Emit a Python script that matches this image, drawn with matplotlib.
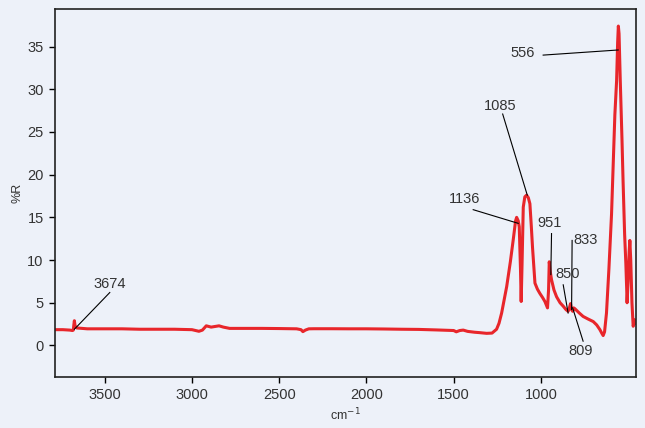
import matplotlib as mpl
mpl.use('Agg')
import matplotlib.pyplot as plt
import numpy as np

# spectrum, read as (wavenumber, %R) pairs, high to low wavenumber
wavenumber = [3786, 3740, 3700, 3685, 3680, 3677, 3674, 3670, 3660, 3600, 3500,
              3400, 3300, 3200, 3100, 3000, 2960, 2940, 2918, 2890, 2860, 2845,
              2820, 2784, 2700, 2600, 2500, 2400, 2375, 2364, 2350, 2330, 2300,
              2200, 2100, 2000, 1900, 1800, 1700, 1600, 1500, 1485, 1465, 1445,
              1420, 1380, 1350, 1311, 1280, 1254, 1240, 1225, 1196, 1175, 1159,
              1145, 1139, 1130, 1124, 1117, 1113, 1108, 1101, 1092, 1082, 1072,
              1063, 1055, 1048, 1034, 1020, 1006, 990, 977, 968, 962, 956, 952,
              946, 939, 925, 910, 890, 872, 856, 844, 838, 830, 824, 818, 812,
              805, 780, 758, 730, 700, 680, 662, 650, 643, 635, 624, 610, 595,
              576, 566, 560, 556, 552, 545, 535, 529, 520, 513, 508, 506, 500,
              494, 490, 485, 478, 471, 466, 462, 458]
reflectance = [1.85, 1.85, 1.8, 1.75, 1.8, 2.4, 2.9, 2.3, 2.05, 1.95, 1.95,
               1.95, 1.9, 1.9, 1.9, 1.85, 1.66, 1.8, 2.3, 2.15, 2.25, 2.3,
               2.15, 2.0, 2.0, 2.0, 1.98, 1.95, 1.85, 1.62, 1.8, 1.95, 1.96,
               1.96, 1.95, 1.95, 1.93, 1.9, 1.88, 1.82, 1.75, 1.6, 1.75, 1.8,
               1.65, 1.55, 1.5, 1.42, 1.45, 1.9, 2.6, 3.8, 6.9, 9.8, 12.3,
               14.6, 15.0, 14.6, 13.9, 9.0, 5.15, 9.5, 16.2, 17.4, 17.6, 17.3,
               16.6, 14.0, 11.5, 7.3, 6.6, 6.1, 5.6, 5.15, 4.7, 4.4, 6.5, 9.8,
               8.6, 7.7, 6.5, 5.7, 5.0, 4.6, 4.2, 4.0, 4.3, 4.9, 4.2, 4.0, 4.4,
               4.3, 3.8, 3.4, 3.1, 2.8, 2.4, 1.86, 1.4, 1.16, 1.6, 3.8, 9.0, 15.4,
               27.0, 31.0, 35.5, 37.4, 36.5, 31.0, 24.0, 19.3, 13.0, 9.6, 6.5, 5.0, 7.5,
               11.0, 12.3, 10.0, 5.0, 2.25, 2.6, 3.0, 2.6]

# peak labels: text position and line ends
peak_labels = ['3674', '1136', '1085', '951', '833', '850', '809', '556']
label_xy = [(3471, 7.2), (1435, 17.2), (1235, 28.0), (948, 14.3),
            (815, 12.4), (844, 8.4), (773, -0.7), (1103, 34.2)]
line_start = [(3471, 6.2), (1388, 15.9), (1219, 27.1), (939, 13.1),
              (821, 12.3), (872, 7.1), (758, 0.5), (987, 34.0)]
line_end = [(3674, 1.9), (1130, 14.3), (1078, 17.6), (943, 8.3),
            (824, 4.2), (844, 3.8), (818, 4.4), (557, 34.6)]
label_ha = ['center', 'center', 'center', 'center', 'left', 'center', 'center', 'center']

bg = '#edf1f9'
ink = '#333333'
plt.rcParams['font.family'] = ['Liberation Sans', 'DejaVu Sans']

fig = plt.figure(figsize=(6.45, 4.28), dpi=100, facecolor=bg)
ax = fig.add_axes([0.085, 0.119, 0.901, 0.860], facecolor=bg)

ax.plot(wavenumber, reflectance, color='#e8262b', lw=2.2, solid_joinstyle='round')

for lab, txt, a, b, ha in zip(peak_labels, label_xy, line_start, line_end, label_ha):
    ax.plot([a[0], b[0]], [a[1], b[1]], color='black', lw=0.8)
    ax.text(txt[0], txt[1], lab, ha=ha, va='center', fontsize=10.5, color=ink)

ax.set_xlim(3786, 455)
ax.set_ylim(-3.7, 39.4)
ax.set_xticks([3500, 3000, 2500, 2000, 1500, 1000])
ax.set_yticks([0, 5, 10, 15, 20, 25, 30, 35])
ax.tick_params(axis='both', direction='out', length=4, width=1, color='black',
               labelsize=10.5, labelcolor=ink, pad=4)
for side in ['left', 'bottom', 'right', 'top']:
    ax.spines[side].set_color('#222222')
    ax.spines[side].set_linewidth(1.2)

ax.set_xlabel('cm$^{-1}$', fontsize=9, color=ink, labelpad=3)
ax.set_ylabel('%R', fontsize=9, color=ink, labelpad=3)

plt.savefig('out.png', dpi=100, facecolor=bg)
